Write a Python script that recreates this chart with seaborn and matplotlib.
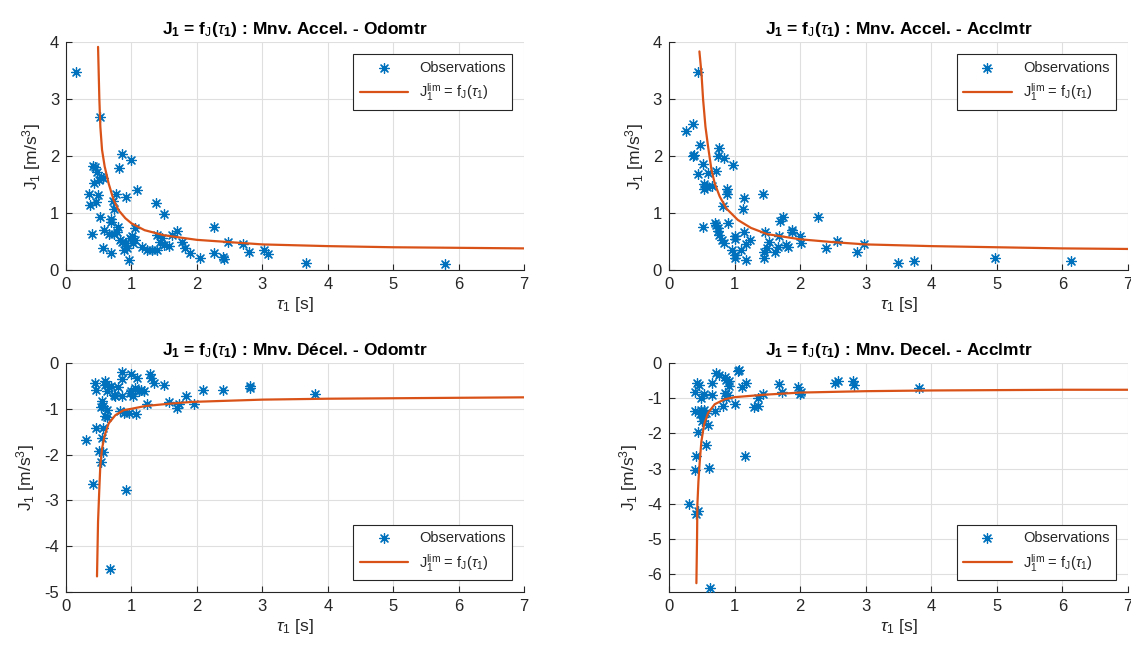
import seaborn as sns
import matplotlib.pyplot as plt
import pandas as pd

# Observations (tau_1 [s], J_1 [m/s^3]) per manoeuvre / sensor
tau_acc_odo = [0.15, 0.52, 0.85, 1.00, 0.81, 0.41, 0.44, 0.48, 0.54, 0.51, 0.43, 0.57, 1.08, 0.35, 0.49,
               0.77, 0.91, 0.46, 0.36, 0.72, 0.73, 1.38, 1.50, 0.52, 0.68, 0.69, 0.39, 0.58, 0.65, 0.73,
               0.80, 0.78, 0.83, 0.86, 0.91, 0.88, 0.93, 0.96, 0.98, 1.01, 1.06, 1.06, 1.03, 0.68, 0.56,
               1.16, 1.24, 1.31, 1.39, 1.43, 1.39, 1.47, 1.50, 1.58, 1.62, 1.70, 1.77, 1.82, 1.90, 2.04,
               2.26, 2.26, 2.40, 2.42, 2.47, 2.70, 2.80, 3.02, 3.08, 3.66, 5.79]
j_acc_odo = [3.47, 2.68, 2.03, 1.94, 1.79, 1.83, 1.81, 1.73, 1.64, 1.58, 1.52, 1.61, 1.41, 1.33, 1.32,
             1.33, 1.29, 1.19, 1.14, 1.22, 1.07, 1.18, 0.98, 0.93, 0.89, 0.85, 0.63, 0.70, 0.64, 0.64,
             0.76, 0.67, 0.53, 0.50, 0.47, 0.35, 0.38, 0.18, 0.56, 0.59, 0.73, 0.53, 0.47, 0.30, 0.38,
             0.41, 0.35, 0.35, 0.35, 0.50, 0.61, 0.56, 0.44, 0.42, 0.61, 0.69, 0.50, 0.38, 0.30, 0.22,
             0.76, 0.30, 0.23, 0.20, 0.50, 0.46, 0.32, 0.36, 0.28, 0.13, 0.11]

tau_acc_acc = [0.45, 0.37, 0.26, 0.36, 0.38, 0.47, 0.77, 0.75, 0.84, 0.97, 0.52, 0.44, 0.59, 0.71, 0.53,
               0.54, 0.58, 0.66, 0.88, 0.89, 1.44, 1.15, 0.82, 1.13, 0.52, 0.70, 0.72, 0.75, 0.75, 0.76,
               0.81, 0.84, 0.90, 1.00, 1.00, 0.96, 1.00, 1.00, 1.10, 1.14, 1.17, 1.23, 1.17, 1.45, 1.45,
               1.49, 1.47, 1.52, 1.61, 1.66, 1.68, 1.69, 1.74, 1.79, 1.82, 1.87, 1.88, 2.00, 2.02, 2.27,
               2.39, 2.57, 2.86, 2.98, 3.50, 3.74, 4.97, 6.13]
j_acc_acc = [3.47, 2.56, 2.44, 2.00, 2.02, 2.19, 2.15, 2.00, 1.96, 1.85, 1.86, 1.69, 1.70, 1.74, 1.51,
             1.43, 1.46, 1.48, 1.42, 1.33, 1.33, 1.27, 1.13, 1.08, 0.75, 0.83, 0.79, 0.74, 0.68, 0.61,
             0.53, 0.48, 0.82, 0.59, 0.54, 0.36, 0.26, 0.22, 0.35, 0.67, 0.45, 0.53, 0.18, 0.22, 0.31,
             0.38, 0.66, 0.49, 0.31, 0.41, 0.59, 0.86, 0.94, 0.44, 0.40, 0.70, 0.66, 0.59, 0.47, 0.94,
             0.38, 0.51, 0.32, 0.45, 0.13, 0.16, 0.21, 0.16]

tau_dec_odo = [0.85, 1.00, 1.28, 1.30, 1.34, 1.09, 0.86, 0.44, 0.46, 0.59, 0.60, 0.68, 0.63, 0.73, 0.80,
               0.85, 1.00, 1.02, 1.06, 1.11, 1.19, 1.50, 2.10, 2.40, 2.81, 2.81, 3.80, 0.55, 0.57, 0.63,
               0.53, 0.59, 0.62, 0.82, 0.88, 0.96, 1.07, 1.24, 1.58, 1.69, 1.72, 1.84, 1.95, 0.46, 0.57,
               0.30, 0.55, 0.50, 0.56, 0.53, 0.41, 0.92, 0.67, 0.65, 0.75, 0.97, 1.15]
j_dec_odo = [-0.20, -0.24, -0.24, -0.33, -0.44, -0.33, -0.36, -0.44, -0.58, -0.40, -0.47, -0.51, -0.62, -0.69, -0.53,
             -0.71, -0.62, -0.73, -0.55, -0.62, -0.62, -0.49, -0.58, -0.60, -0.51, -0.55, -0.68, -0.84, -0.95, -1.02,
             -0.97, -1.15, -1.19, -1.04, -1.09, -1.09, -1.11, -0.90, -0.85, -0.99, -0.90, -0.73, -0.89, -1.41, -1.43,
             -1.68, -1.64, -1.93, -1.95, -2.17, -2.65, -2.77, -4.50, -0.53, -0.72, -0.66, -0.58]

tau_dec_acc = [0.62, 0.30, 0.41, 0.45, 0.40, 0.41, 0.61, 0.57, 0.44, 0.60, 1.16, 0.39, 0.47, 0.49, 0.52,
               0.54, 0.57, 0.70, 0.50, 0.49, 0.39, 0.43, 0.46, 0.54, 0.65, 0.66, 0.71, 0.76, 0.85, 0.87,
               0.91, 0.92, 0.90, 0.86, 0.87, 0.82, 1.00, 1.05, 1.07, 1.12, 1.18, 1.30, 1.35, 1.36, 1.43,
               1.68, 1.72, 1.97, 2.00, 2.02, 2.53, 2.58, 2.81, 2.82, 3.81]
j_dec_acc = [-6.40, -4.01, -4.29, -4.19, -3.05, -2.65, -2.99, -2.32, -1.96, -1.75, -2.65, -1.37, -1.44, -1.33, -1.52,
             -1.33, -1.42, -1.37, -1.66, -1.00, -0.82, -0.57, -0.62, -0.88, -0.90, -0.57, -0.28, -0.35, -0.41, -0.47,
             -0.52, -0.66, -0.90, -0.85, -1.00, -1.23, -1.17, -0.22, -0.19, -0.68, -0.57, -1.25, -1.21, -1.00, -0.88,
             -0.60, -0.83, -0.69, -0.88, -0.82, -0.57, -0.50, -0.50, -0.62, -0.71]

# Limit curves J_1^lim = f_J(tau_1)
lim_tau_acc_odo = [0.489, 0.509, 0.524, 0.550, 0.590, 0.651, 0.727, 0.803, 0.906, 1.0, 1.2, 1.5, 2.0, 2.5, 3.0, 4.0, 5.0, 6.0, 7.0]
lim_j_acc_odo = [3.92, 3.00, 2.52, 2.11, 1.82, 1.52, 1.23, 1.05, 0.91, 0.82, 0.70, 0.61, 0.53, 0.49, 0.45, 0.42, 0.40, 0.39, 0.38]

lim_tau_acc_acc = [0.464, 0.495, 0.520, 0.556, 0.596, 0.648, 0.698, 0.774, 0.876, 1.05, 1.25, 1.5, 2.0, 2.5, 3.0, 4.0, 5.0, 6.0, 7.0]
lim_j_acc_acc = [3.84, 3.46, 3.00, 2.52, 2.17, 1.76, 1.52, 1.29, 1.08, 0.88, 0.74, 0.63, 0.54, 0.49, 0.45, 0.42, 0.40, 0.38, 0.37]

lim_tau_dec_odo = [0.473, 0.489, 0.509, 0.524, 0.550, 0.590, 0.651, 0.753, 0.880, 1.0, 1.21, 1.57, 1.92, 3.0, 4.0, 5.0, 6.0, 7.0]
lim_j_dec_odo = [-4.66, -3.46, -2.73, -2.23, -1.87, -1.58, -1.32, -1.14, -1.03, -1.00, -0.94, -0.89, -0.85, -0.80, -0.78, -0.77, -0.76, -0.75]

lim_tau_dec_acc = [0.418, 0.428, 0.433, 0.449, 0.469, 0.494, 0.535, 0.596, 0.698, 0.85, 1.0, 1.46, 2.0, 3.0, 4.0, 5.0, 6.0, 7.0]
lim_j_dec_acc = [-6.25, -4.97, -4.03, -3.36, -2.80, -2.23, -1.75, -1.42, -1.17, -1.03, -0.97, -0.90, -0.84, -0.80, -0.78, -0.77, -0.76, -0.76]

titles = ['Mnv. Accel. - Odomtr', 'Mnv. Accel. - Acclmtr', 'Mnv. Décel. - Odomtr', 'Mnv. Decel. - Acclmtr']
y_limits = [(0, 4), (0, 4), (-5, 0), (-6.5, 0)]
y_ticks = [[0, 1, 2, 3, 4], [0, 1, 2, 3, 4], [-5, -4, -3, -2, -1, 0], [-6, -5, -4, -3, -2, -1, 0]]

panels = [(tau_acc_odo, j_acc_odo, lim_tau_acc_odo, lim_j_acc_odo),
          (tau_acc_acc, j_acc_acc, lim_tau_acc_acc, lim_j_acc_acc),
          (tau_dec_odo, j_dec_odo, lim_tau_dec_odo, lim_j_dec_odo),
          (tau_dec_acc, j_dec_acc, lim_tau_dec_acc, lim_j_dec_acc)]

sns.set_theme(style='whitegrid')
plt.rcParams['font.family'] = ['Liberation Sans', 'DejaVu Sans']
plt.rcParams['mathtext.fontset'] = 'custom'
plt.rcParams['mathtext.rm'] = 'Liberation Sans'
plt.rcParams['mathtext.it'] = 'Liberation Sans:italic'
plt.rcParams['mathtext.bf'] = 'Liberation Sans:bold'
plt.rcParams['axes.unicode_minus'] = False

blue = '#0072BD'
orange = '#D95319'
dark = '#262626'

fig = plt.figure(figsize=(11.31, 6.46), dpi=100)
# axes rectangles in figure fraction (left, bottom, width, height)
rects = [(0.0584, 0.5820, 0.4050, 0.3525),
         (0.5915, 0.5820, 0.4058, 0.3525),
         (0.0584, 0.0836, 0.4050, 0.3545),
         (0.5915, 0.0836, 0.4058, 0.3545)]

for i, (tau, j, ltau, lj) in enumerate(panels):
    ax = fig.add_axes(rects[i])
    ax.set_facecolor('white')
    obs = pd.DataFrame({'tau': tau, 'J': j})
    lim = pd.DataFrame({'tau': ltau, 'J': lj})
    sns.scatterplot(data=obs, x='tau', y='J', ax=ax, marker=(8, 2, 0), s=50, color=blue,
                    linewidth=0.9, label='Observations', zorder=3)
    sns.lineplot(data=lim, x='tau', y='J', ax=ax, color=orange, linewidth=1.6, sort=False,
                 estimator=None, label=r'J$_1^{\mathrm{lim}}$ = f$_\mathrm{J}$($\tau_1$)', zorder=4)

    ax.set_xlim(0, 7)
    ax.set_ylim(*y_limits[i])
    ax.set_xticks(range(0, 8))
    ax.set_yticks(y_ticks[i])
    ax.grid(True, color='#dfdfdf', linewidth=0.8)
    for side in ['top', 'right']:
        ax.spines[side].set_visible(False)
    for side in ['left', 'bottom']:
        ax.spines[side].set_color(dark)
        ax.spines[side].set_linewidth(0.8)
    ax.tick_params(direction='in', length=4, width=0.8, color=dark, labelcolor=dark,
                   labelsize=12, left=True, bottom=True, pad=5)

    ax.set_xlabel(r'$\tau_1$ [s]', fontsize=12.5, color=dark, labelpad=2)
    ax.set_ylabel(r'J$_1$ [m/s$^3$]', fontsize=12.5, color=dark, labelpad=5)
    ax.set_title(r'J$_\mathbf{1}$ = f$_\mathrm{J}$($\tau_\mathbf{1}$) : ' + titles[i],
                 fontsize=12.5, fontweight='bold', color='black', pad=6)

    loc = 'upper right' if i < 2 else 'lower right'
    leg = ax.legend(loc=loc, fontsize=10.5, frameon=True, fancybox=False, framealpha=1,
                    edgecolor=dark, handlelength=3.3, borderaxespad=0.8, borderpad=0.45,
                    labelspacing=0.45, handletextpad=0.8)
    leg.get_frame().set_linewidth(0.8)

fig.savefig('out.png', dpi=100)
